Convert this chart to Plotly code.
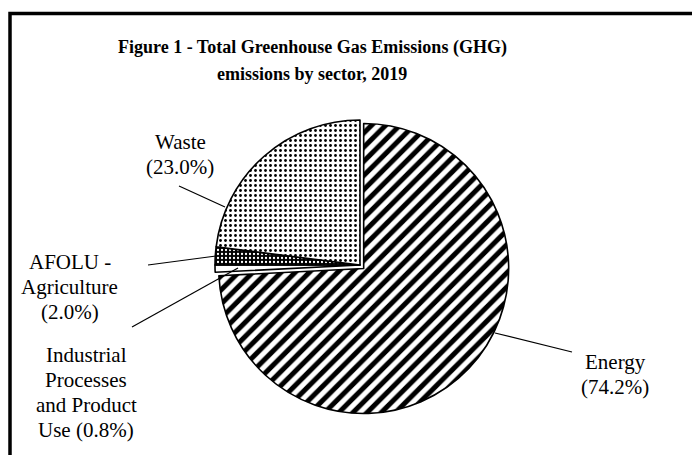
import plotly.graph_objects as go

# ---- data ----
sectors = ["Energy", "Industrial Processes and Product Use", "AFOLU - Agriculture", "Waste"]
shares = [74.2, 0.8, 2.0, 23.0]
label_lines = [
    ["Energy", "(74.2%)"],
    ["Industrial", "Processes", "and Product", "Use (0.8%)"],
    ["AFOLU -", "Agriculture", "(2.0%)"],
    ["Waste", "(23.0%)"],
]
title_lines = ["Figure 1 - Total Greenhouse Gas Emissions (GHG)", "emissions by sector, 2019"]

W, H = 700, 455
OFF = 8  # page body margin of the rendered html
FONT = "Liberation Serif, Times New Roman, serif"


def px(x, y):
    return (x - OFF) / W, 1 - (y - OFF) / H


# pie geometry (screen pixels): centre and radius
cx, cy, r, pull = 360, 265, 145, 0.035
half = r * (1 + pull)
dx0, dy1 = px(cx - half, cy - half)
dx1, dy0 = px(cx + half, cy + half)

fig = go.Figure(go.Pie(
    labels=sectors,
    values=shares,
    sort=False,
    direction="clockwise",
    rotation=0,
    pull=[pull, 0, 0, 0],
    textinfo="none",
    hoverinfo="label+percent",
    marker=dict(
        colors=["white", "white", "black", "white"],
        line=dict(color="black", width=1.6),
        pattern=dict(
            shape=["/", "", ".", "."],
            fgcolor=["black", "black", "white", "black"],
            bgcolor=["white", "white", "black", "white"],
            size=[10, 8, 4, 5],
            solidity=[0.5, 0.2, 0.25, 0.25],
            fillmode="replace",
        ),
    ),
    domain=dict(x=[dx0, dx1], y=[dy0, dy1]),
    showlegend=False,
))

annotations = []
# title (two lines)
for i, t in enumerate(title_lines):
    x, y = px(312, 47 + i * 27)
    annotations.append(dict(text="<b>%s</b>" % t, x=x, y=y, xref="paper", yref="paper",
                            showarrow=False, xanchor="center", yanchor="middle",
                            font=dict(family=FONT, size=18, color="black")))

# label blocks: (centre x, first line centre y)
label_pos = [(615, 362), (86, 355), (70, 262), (180, 142)]
step = 25
for lines, (lx, ly) in zip(label_lines, label_pos):
    for j, t in enumerate(lines):
        x, y = px(lx, ly + j * step)
        annotations.append(dict(text=t, x=x, y=y, xref="paper", yref="paper",
                                showarrow=False, xanchor="center", yanchor="middle",
                                font=dict(family=FONT, size=21, color="black")))

# leader lines (screen pixel endpoints)
leaders = [((495, 333), (572, 352)), ((132, 327), (238, 268)),
           ((148, 265), (216, 256)), ((179, 186), (225, 207))]
shapes = []
for (a, b) in leaders:
    x0, y0 = px(*a)
    x1, y1 = px(*b)
    shapes.append(dict(type="line", xref="paper", yref="paper", x0=x0, y0=y0, x1=x1, y1=y1,
                       line=dict(color="black", width=1.2)))

# outer frame
fx0, fy1 = px(10, 13.5)
shapes.append(dict(type="rect", xref="paper", yref="paper", x0=fx0, x1=1.05, y0=-0.05, y1=fy1,
                   line=dict(color="black", width=3.5), fillcolor="rgba(0,0,0,0)"))

fig.update_layout(
    width=W, height=H,
    margin=dict(l=0, r=0, t=0, b=0),
    paper_bgcolor="white", plot_bgcolor="white",
    annotations=annotations, shapes=shapes,
)

fig.write_html("out.html")
